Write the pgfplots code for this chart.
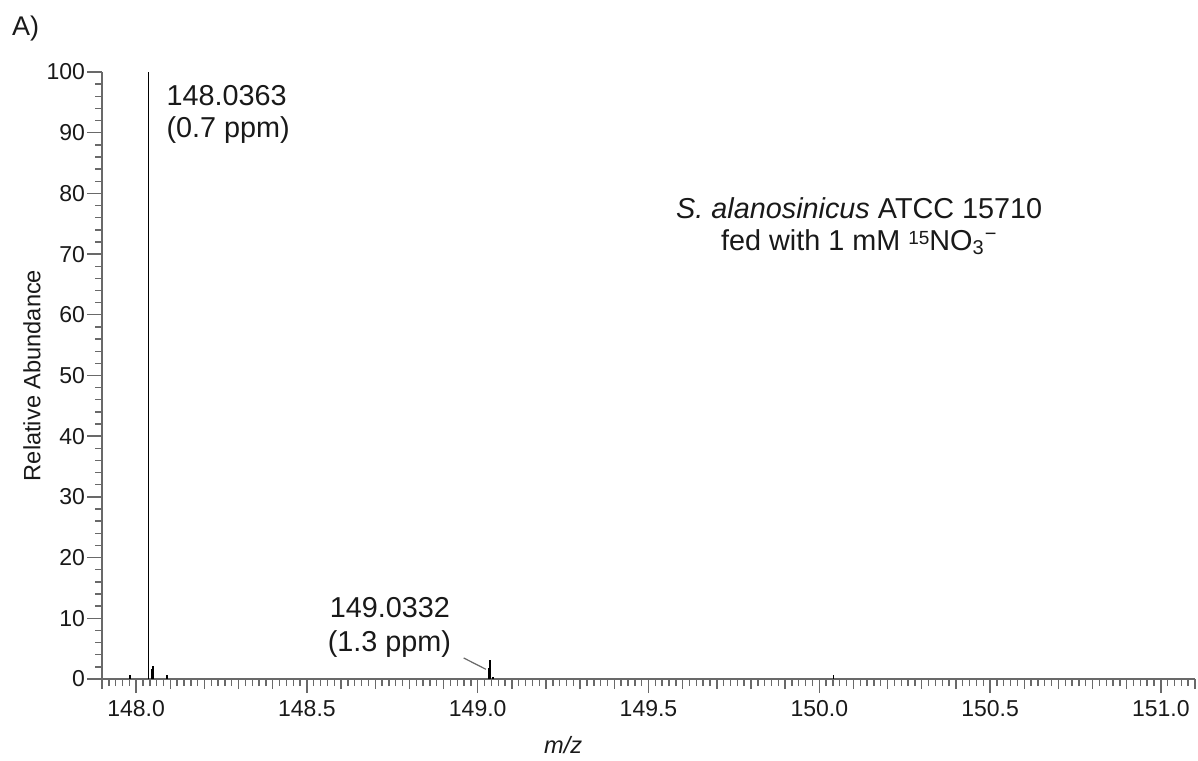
\documentclass[border=0pt]{standalone}
\usepackage{fontspec}
\setmainfont{Liberation Sans}
\usepackage{pgfplots}
\pgfplotsset{compat=1.18}
\definecolor{axisgray}{RGB}{105,105,105}
\definecolor{txt}{RGB}{25,25,25}
\begin{document}
\begin{tikzpicture}[x=1pt,y=1pt]
\path[use as bounding box] (0,0) rectangle (599,380);
\node[anchor=center, font=\fontsize{13.5}{16}\selectfont, text=txt] at (12.8,365.5) {A)};
\begin{axis}[
  at={(51pt,40.5pt)}, anchor=south west,
  scale only axis, width=546.5pt, height=303.5pt,
  xmin=147.9, xmax=151.1, ymin=0, ymax=100,
  clip=false,
  axis lines=left,
  axis line style={-, axisgray, line width=0.75pt},
  every tick/.style={axisgray, line width=0.7pt},
  every minor tick/.style={axisgray, line width=0.7pt},
  tick align=outside,
  major tick length=5pt, minor tick length=3.5pt,
  xtick={147.9,148.0,...,151.1},
  xticklabels={},
  minor xtick={147.92,147.94,...,151.09},
  extra x ticks={148.0,148.5,149.0,149.5,150.0,150.5,151.0},
  extra x tick labels={148.0,148.5,149.0,149.5,150.0,150.5,151.0},
  extra x tick style={major tick length=7pt},
  ytick={0,10,...,100},
  yticklabels={},
  minor ytick={2,4,...,98},
  extra y ticks={0,10,20,30,40,50,60,70,80,90,100},
  extra y tick labels={0,10,20,30,40,50,60,70,80,90,100},
  extra y tick style={major tick length=7.5pt},
  tick label style={font=\fontsize{11.5}{13}\selectfont, text=txt},
  yticklabel style={inner xsep=0.8pt},
  /pgf/number format/assume math mode=true,
  xlabel={\textit{m/z}},
  xlabel style={at={(axis description cs:0.422,-0.109)}, anchor=center, font=\fontsize{11.8}{14}\selectfont, text=txt},
  ylabel={Relative Abundance},
  ylabel style={at={(axis description cs:-0.064,0.5)}, anchor=center, font=\fontsize{11.8}{14}\selectfont, text=txt},
]
\addplot[ycomb, black, line width=0.65pt, mark=none] coordinates {
  (147.982,0.6)
  (148.0363,100)
  (148.046,1.6)
  (148.049,2.2)
  (148.090,0.6)
  (149.031,1.8)
  (149.036,3.2)
  (149.045,0.3)
  (150.041,0.6)
};
\draw[axisgray, line width=0.6pt] (axis cs:148.959,3.46) -- (axis cs:149.024,1.6);
\node[anchor=base west, inner sep=0pt, font=\fontsize{14.4}{17}\selectfont, text=txt] at (axis cs:148.088,94.56) {148.0363};
\node[anchor=base west, inner sep=0pt, font=\fontsize{14.4}{17}\selectfont, text=txt] at (axis cs:148.088,89.29) {(0.7 ppm)};
\node[anchor=base west, inner sep=0pt, font=\fontsize{14.4}{17}\selectfont, text=txt] at (axis cs:148.566,10.21) {149.0332};
\node[anchor=base west, inner sep=0pt, font=\fontsize{14.4}{17}\selectfont, text=txt] at (axis cs:148.560,4.6) {(1.3 ppm)};
\node[anchor=base, inner sep=0pt, font=\fontsize{14.4}{17}\selectfont, text=txt] at (axis cs:150.117,75.9) {\textit{S. alanosinicus} ATCC 15710};
\node[anchor=base, inner sep=0pt, font=\fontsize{14.4}{17}\selectfont, text=txt] at (axis cs:150.117,70.6) {fed with 1 mM {\fontsize{9.5}{10}\selectfont\raisebox{0.55ex}{15}}NO\textsubscript{3}\textsuperscript{−}};
\end{axis}
\end{tikzpicture}
\end{document}
